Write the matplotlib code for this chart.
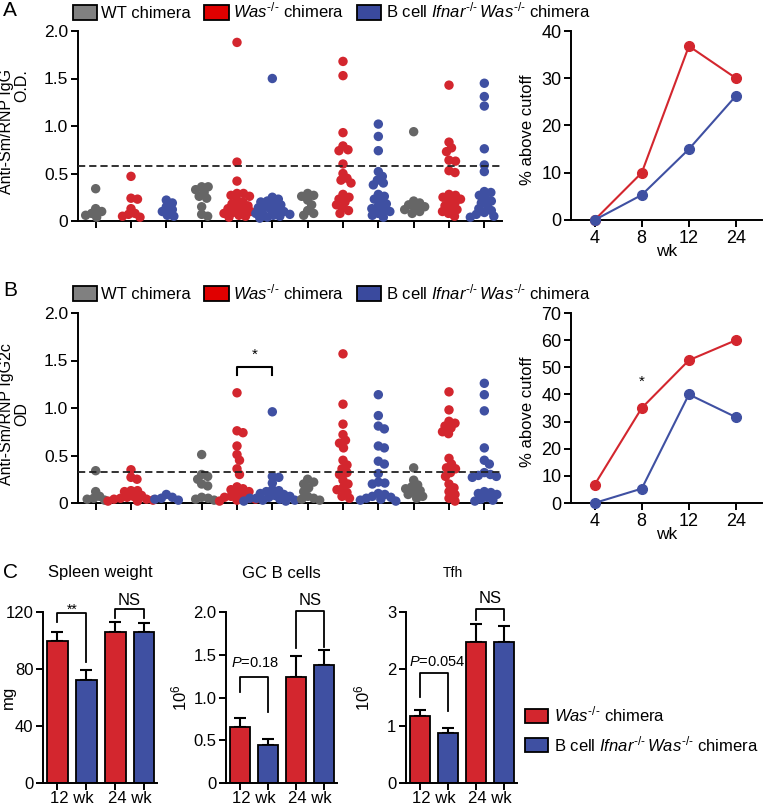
import numpy as np
import matplotlib
matplotlib.use("Agg")
import matplotlib.pyplot as plt
from matplotlib.patches import Patch

plt.rcParams['font.family'] = ['Liberation Sans', 'DejaVu Sans']
plt.rcParams['mathtext.fontset'] = 'custom'
plt.rcParams['mathtext.rm'] = 'Liberation Sans'
plt.rcParams['mathtext.it'] = 'Liberation Sans:italic'
plt.rcParams['mathtext.bf'] = 'Liberation Sans:bold'

# ---- data ----
weeks = ["4 wk", "8 wk", "12 wk", "24 wk"]
week_nums = ["4", "8", "12", "24"]

# panel A: anti-Sm/RNP IgG O.D. per mouse (4, 8, 12, 24 wk)
a_wt = [
    [0.34, 0.13, 0.10, 0.08, 0.06, 0.04],
    [0.36, 0.36, 0.33, 0.30, 0.26, 0.24, 0.15, 0.07, 0.05],
    [0.29, 0.27, 0.26, 0.22, 0.17, 0.11, 0.08, 0.06],
    [0.94, 0.21, 0.19, 0.17, 0.15, 0.14, 0.12, 0.10, 0.08],
]
a_was = [
    [0.47, 0.24, 0.23, 0.13, 0.08, 0.07, 0.05, 0.04],
    [1.88, 0.62, 0.42, 0.29, 0.29, 0.27, 0.26, 0.22, 0.20, 0.18,
     0.16, 0.14, 0.13, 0.12, 0.10, 0.09, 0.08, 0.06, 0.05, 0.04],
    [1.68, 1.53, 0.93, 0.79, 0.75, 0.74, 0.60, 0.50, 0.45, 0.43,
     0.40, 0.28, 0.25, 0.23, 0.20, 0.17, 0.14, 0.11, 0.08],
    [1.43, 0.83, 0.77, 0.73, 0.64, 0.63, 0.53, 0.51, 0.28, 0.27,
     0.25, 0.23, 0.21, 0.19, 0.16, 0.14, 0.12, 0.10, 0.08, 0.05],
]
a_ifnar = [
    [0.22, 0.19, 0.15, 0.12, 0.10, 0.06, 0.05],
    [1.50, 0.25, 0.23, 0.21, 0.20, 0.18, 0.17, 0.15, 0.14, 0.12,
     0.11, 0.10, 0.09, 0.08, 0.07, 0.06, 0.05, 0.04, 0.03],
    [1.02, 0.89, 0.74, 0.52, 0.47, 0.43, 0.40, 0.38, 0.28, 0.26,
     0.23, 0.21, 0.18, 0.15, 0.13, 0.12, 0.10, 0.08, 0.06, 0.04],
    [1.45, 1.31, 1.21, 0.76, 0.59, 0.52, 0.31, 0.30, 0.27, 0.24,
     0.21, 0.19, 0.16, 0.13, 0.11, 0.09, 0.07, 0.05, 0.04],
]
a_cutoff = 0.58
a_pct_was = [0, 10, 36.8, 30]
a_pct_ifnar = [0, 5.3, 15, 26.3]

# panel B: anti-Sm/RNP IgG2c OD
b_wt = [
    [0.34, 0.12, 0.07, 0.05, 0.04, 0.03],
    [0.51, 0.30, 0.28, 0.25, 0.20, 0.18, 0.06, 0.05, 0.04, 0.03],
    [0.25, 0.22, 0.20, 0.16, 0.12, 0.07, 0.05, 0.04, 0.03],
    [0.37, 0.24, 0.19, 0.17, 0.15, 0.13, 0.11, 0.09, 0.07, 0.05],
]
b_was = [
    [0.35, 0.27, 0.25, 0.13, 0.13, 0.12, 0.08, 0.07, 0.06, 0.05,
     0.04, 0.04, 0.03, 0.02, 0.02],
    [1.16, 0.76, 0.74, 0.60, 0.51, 0.45, 0.36, 0.30, 0.17, 0.15,
     0.14, 0.12, 0.10, 0.08, 0.07, 0.06, 0.05, 0.04, 0.03, 0.02],
    [1.57, 1.04, 0.83, 0.72, 0.66, 0.63, 0.58, 0.45, 0.40, 0.36,
     0.32, 0.30, 0.24, 0.20, 0.16, 0.14, 0.11, 0.07, 0.05],
    [1.17, 0.98, 0.86, 0.84, 0.81, 0.79, 0.75, 0.73, 0.47, 0.41,
     0.37, 0.36, 0.32, 0.28, 0.20, 0.16, 0.12, 0.09, 0.05, 0.02],
]
b_ifnar = [
    [0.09, 0.06, 0.05, 0.04, 0.03],
    [0.96, 0.28, 0.27, 0.21, 0.14, 0.13, 0.12, 0.10, 0.09, 0.08,
     0.07, 0.06, 0.05, 0.05, 0.04, 0.03, 0.03, 0.02, 0.02],
    [1.14, 0.92, 0.81, 0.78, 0.60, 0.58, 0.44, 0.41, 0.31, 0.22,
     0.21, 0.20, 0.10, 0.09, 0.07, 0.06, 0.05, 0.04, 0.03, 0.02],
    [1.26, 1.14, 0.97, 0.58, 0.45, 0.41, 0.32, 0.30, 0.29, 0.28,
     0.27, 0.12, 0.11, 0.10, 0.09, 0.06, 0.04, 0.03, 0.02],
]
b_cutoff = 0.33
b_pct_was = [6.7, 35, 52.6, 60]
b_pct_ifnar = [0, 5.3, 40, 31.6]

# panel C: bars (Was-/-, Ifnar-/-Was-/-) at 12 wk then 24 wk
bar_groups = ["12 wk", "24 wk"]
spleen_mean = [100, 72, 106, 106]
spleen_sem = [6, 7, 7, 6]
gc_mean = [0.65, 0.44, 1.24, 1.38]
gc_sem = [0.11, 0.07, 0.25, 0.18]
tfh_mean = [1.18, 0.87, 2.47, 2.47]
tfh_sem = [0.10, 0.10, 0.32, 0.28]

GRAY = "#666666"
RED = "#D3262E"
BLUE = "#3F50A2"
LW = 1.4
W, H = 763, 808
KO = r"^{\mathrm{‐/‐}}"
WAS = r"$\mathit{Was}" + KO + "$ chimera"
IFNAR = r"B cell $\mathit{Ifnar}" + KO + r"\,\mathit{Was}" + KO + "$ chimera"

fig = plt.figure(figsize=(W / 100, H / 100), dpi=100)


def box(l, r, t, b):
    return [l / W, 1 - b / H, (r - l) / W, (b - t) / H]


def style(ax):
    for s in ["top", "right"]:
        ax.spines[s].set_visible(False)
    for s in ["left", "bottom"]:
        ax.spines[s].set_linewidth(LW)
    ax.tick_params(direction="out", length=5, width=LW, labelsize=12.5, pad=2)


def swarm(ax, pos, vals, dist_px):
    tr = ax.transData
    inv = tr.inverted()
    placed = []
    out = [0.0] * len(vals)
    steps = [0.0]
    for k in range(1, 300):
        steps += [k * 0.5, -k * 0.5]
    for i in np.argsort(vals)[::-1]:
        px, py = tr.transform((pos, vals[i]))
        for dx in steps:
            if all((px + dx - qx) ** 2 + (py - qy) ** 2 >= dist_px ** 2 for qx, qy in placed):
                break
        placed.append((px + dx, py))
        out[i] = inv.transform((px + dx, py))[0]
    return out


def scatter_panel(rect, wt, was, ifnar, cutoff, ylabel, ylab_align, ylab_y):
    ax = fig.add_axes(rect)
    style(ax)
    ax.set_xlim(-0.5, 11.5)
    ax.set_ylim(0, 2.0)
    ax.set_yticks([0, 0.5, 1.0, 1.5, 2.0])
    ax.set_yticklabels(["0", "0.5", "1.0", "1.5", "2.0"])
    ax.set_xticks(range(12))
    ax.set_xticklabels([])
    ax.set_xticks([1, 4, 7, 10], minor=True)
    ax.set_xticklabels(weeks, minor=True)
    ax.tick_params(axis="x", which="minor", length=0, pad=9, labelsize=12.5)
    for w in range(4):
        for j, (grp, col) in enumerate([(wt, GRAY), (was, RED), (ifnar, BLUE)]):
            pos = 3 * w + j
            xs = swarm(ax, pos, grp[w], 6.2)
            ax.scatter(xs, grp[w], s=46, color=col, edgecolors="none",
                       clip_on=False, zorder=3)
    ax.axhline(cutoff, ls=(0, (4, 2.2)), color="#222222", lw=1.3, zorder=4)
    ax.set_ylabel(ylabel, fontsize=11.5, multialignment=ylab_align, linespacing=1.05)
    ax.yaxis.set_label_coords(-0.115, ylab_y)
    return ax


def line_panel(rect, was, ifnar, ymax, step):
    ax = fig.add_axes(rect)
    style(ax)
    x = np.arange(4)
    ax.plot(x, was, color=RED, lw=1.5, marker="o", ms=7, clip_on=False, zorder=3)
    ax.plot(x, ifnar, color=BLUE, lw=1.5, marker="o", ms=7, clip_on=False, zorder=3)
    ax.set_xlim(-0.5, 3.55)
    ax.set_ylim(0, ymax)
    ax.set_yticks(np.arange(0, ymax + 1, step))
    ax.set_xticks(x)
    ax.set_xticklabels(week_nums)
    ax.tick_params(labelsize=13)
    ax.set_xlabel("wk", fontsize=12.5, labelpad=-2)
    ax.set_ylabel("% above cutoff", fontsize=12)
    ax.yaxis.set_label_coords(-0.19, 0.48)
    return ax


# ---- A ----
axA = scatter_panel(box(78, 502, 31, 221), a_wt, a_was, a_ifnar, a_cutoff,
                    "Anti-Sm/RNP IgG\nO.D.", "right", 0.47)
axA2 = line_panel(box(571, 762, 31, 220), a_pct_was, a_pct_ifnar, 40, 10)

# ---- B ----
axB = scatter_panel(box(78, 502, 313, 503), b_wt, b_was, b_ifnar, b_cutoff,
                    "Anti-Sm/RNP IgG2c\nOD", "center", 0.47)
axB.plot([4, 4, 5, 5], [1.35, 1.43, 1.43, 1.35], color="black", lw=1.5)
axB.text(4.5, 1.49, "*", ha="center", va="bottom", fontsize=11)
axB2 = line_panel(box(571, 762, 313, 503), b_pct_was, b_pct_ifnar, 70, 10)
axB2.text(1, 42, "*", ha="center", va="bottom", fontsize=11)

leg_labels = ["WT chimera", WAS, IFNAR]
leg_cols = ["#808080", "#E00000", "#3A4A9E"]
for ytop in (1, 282):
    handles = [Patch(facecolor=c, edgecolor="black", lw=1.3) for c in leg_cols]
    fig.legend(handles, leg_labels, loc="upper left", ncol=3,
               bbox_to_anchor=(73 / W, 1 - ytop / H), frameon=False,
               fontsize=12, borderpad=0, handlelength=1.45, handleheight=1.0,
               handletextpad=0.25, columnspacing=0.8, borderaxespad=0)

fig.text(3 / W, 1 - 11 / H, "A", fontsize=15, va="center")
fig.text(3 / W, 1 - 291 / H, "B", fontsize=15, va="center")
fig.text(3 / W, 1 - 573 / H, "C", fontsize=15, va="center")


# ---- C ----
def bar_panel(rect, mean, sem, ymax, yticks, yticklabels, ylabel, title, tsize, ylab_x):
    ax = fig.add_axes(rect)
    style(ax)
    x = np.arange(4)
    ax.bar(x, mean, width=0.72, color=[RED, BLUE, RED, BLUE], edgecolor="black",
           lw=1.3, zorder=2)
    ax.errorbar(x, mean, yerr=[[0] * 4, sem], fmt="none", ecolor="black",
                elinewidth=1.5, capsize=4.5, capthick=1.5, zorder=1)
    ax.set_xlim(-0.5, 3.45)
    ax.set_ylim(0, ymax)
    ax.set_yticks(yticks)
    ax.set_yticklabels(yticklabels)
    ax.tick_params(labelsize=12)
    ax.set_xticks(x)
    ax.set_xticklabels([])
    ax.set_xticks([0.5, 2.5], minor=True)
    ax.set_xticklabels(bar_groups, minor=True)
    ax.tick_params(axis="x", which="minor", length=0, pad=6, labelsize=12)
    ax.set_ylabel(ylabel, fontsize=12)
    ax.yaxis.set_label_coords(ylab_x, 0.5)
    ax.text(0.5, 1 + 39 / 171, title, transform=ax.transAxes, ha="center",
            va="center", fontsize=tsize)
    return ax


def bracket(ax, x1, x2, y, l1, l2, label, ty, size, lx=None):
    ax.plot([x1, x1, x2, x2], [l1, y, y, l2], color="black", lw=1.3, clip_on=False)
    ax.text((x1 + x2) / 2 if lx is None else lx, ty, label, ha="center",
            va="center", fontsize=size)


axS = bar_panel(box(43, 157, 612, 783), spleen_mean, spleen_sem, 120,
                [0, 40, 80, 120], ["0", "40", "80", "120"], "mg",
                "Spleen weight", 12, -0.24)
bracket(axS, 0, 1, 119, 113, 85, "**", 121.5, 10)
bracket(axS, 2, 3, 122, 116, 116, "NS", 128.4, 12)

axG = bar_panel(box(226, 337, 612, 783), gc_mean, gc_sem, 2.0,
                [0, 0.5, 1.0, 1.5, 2.0], ["0", "0.5", "1.0", "1.5", "2.0"],
                r"$10^6$", "GC B cells", 12, -0.33)
bracket(axG, 0, 1, 1.24, 1.06, 0.83, r"$\mathit{P}$=0.18", 1.40, 10.5, 0.55)
bracket(axG, 2, 3, 2.01, 1.58, 1.59, "NS", 2.14, 12)

axT = bar_panel(box(406, 517, 612, 783), tfh_mean, tfh_sem, 3,
                [0, 1, 2, 3], ["0", "1", "2", "3"], r"$10^6$", "Tfh", 10, -0.30)
axT.texts[-1].set_x(0.42)
bracket(axT, 0, 1, 1.93, 1.51, 1.26, r"$\mathit{P}$=0.054", 2.12, 10.5, 0.6)
bracket(axT, 2, 3, 3.05, 2.86, 2.86, "NS", 3.23, 12)

handles = [Patch(facecolor=RED, edgecolor="black", lw=1.3),
           Patch(facecolor=BLUE, edgecolor="black", lw=1.3)]
fig.legend(handles, [WAS, IFNAR],
           loc="upper left", bbox_to_anchor=(525 / W, 1 - 705 / H), frameon=False,
           fontsize=12, borderpad=0, handlelength=1.35, handleheight=0.9,
           handletextpad=0.4, labelspacing=0.55, borderaxespad=0)

fig.savefig("out.png", dpi=100)
